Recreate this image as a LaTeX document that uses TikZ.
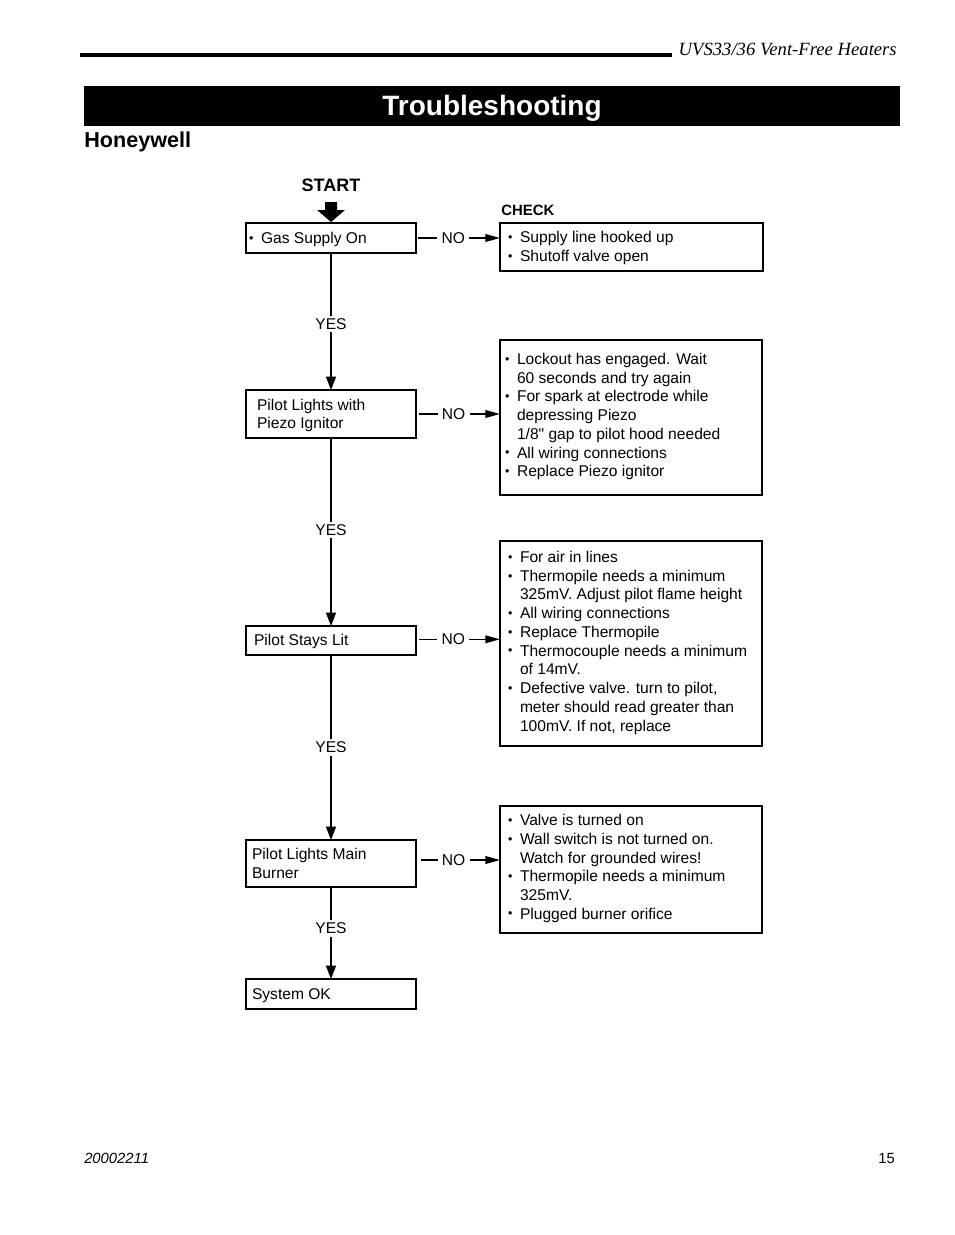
\documentclass[tikz,border=0pt]{standalone}
\usepackage{graphicx}
\usepackage{fontspec}
\setmainfont{Liberation Sans}
\newfontfamily\rawsans{Liberation Sans}
\newfontfamily\serifhdr{Liberation Serif}
\usetikzlibrary{arrows.meta,calc}
\def\px{0.75pt}
\newcommand\bl{\makebox[9pt][l]{\raisebox{0.08em}{\scalebox{0.8}{\textbullet}}}}
\newcommand\ind{\makebox[9pt]{}}
\newcommand\lines[1]{\parbox[t]{250pt}{\raggedright #1}}
\begin{document}
\begin{tikzpicture}[x=0.75pt,y=-0.75pt,
  lbox/.style={draw, line width=1.9pt, inner sep=0, outer sep=0, anchor=north west},
  rbox/.style={draw, line width=1.6pt, inner sep=0, outer sep=0, anchor=north west},
  txt/.style={inner sep=0, outer sep=0, anchor=base west, font=\fontsize{11.7}{14.06}\selectfont},
  conn/.style={line width=1pt},
  varrow/.style={conn, -{Triangle[length=10pt,width=7.5pt]}},
  harrow/.style={conn, -{Triangle[length=11pt,width=5.8pt]}},
  lab/.style={fill=white, inner xsep=2pt, inner ysep=2pt, font=\fontsize{11.7}{14}\selectfont},
  nolab/.style={lab, inner xsep=3.2pt},
]
\useasboundingbox (0,0) rectangle (954,1235);

% header
\fill (80,52.5) rectangle (672,56.5);
\node[anchor=base east, inner sep=0, font=\serifhdr\itshape\fontsize{14}{16}\selectfont] (hdr) at (897,55) {UVS33/36 Vent-Free Heaters};
\node[fill=black, minimum width=816*\px, minimum height=40*\px, inner sep=0, outer sep=0, anchor=north west] (bar) at (84,86) {};
\node[anchor=base, inner sep=0, text=white, font=\bfseries\fontsize{21}{24}\selectfont] (title) at (492,115) {Troubleshooting};
\node[anchor=base west, inner sep=0, font=\bfseries\fontsize{16.2}{19}\selectfont] (sect) at (84,147.5) {Honeywell};

% footer
\node[anchor=base west, inner sep=0, font=\itshape\fontsize{11.1}{13}\selectfont] (docno) at (84,1163.5) {20002211};
\node[anchor=base east, inner sep=0, font=\fontsize{11.1}{13}\selectfont] (page) at (895,1163.5) {15};

% start
\node[anchor=base, inner sep=0, font=\bfseries\fontsize{13.5}{16}\selectfont] (start) at (331,191) {START};
\node[anchor=base west, inner sep=0, font=\bfseries\fontsize{11.2}{13}\selectfont] (check) at (501,215.5) {CHECK};

% left boxes
\node[lbox, minimum width=170*\px, minimum height=30*\px] (b1) at (246,223) {};
\node[lbox, minimum width=170*\px, minimum height=48*\px] (b2) at (246,390) {};
\node[lbox, minimum width=170*\px, minimum height=29*\px] (b3) at (246,626) {};
\node[lbox, minimum width=170*\px, minimum height=47*\px] (b4) at (246,840) {};
\node[lbox, minimum width=170*\px, minimum height=30*\px] (b5) at (246,979) {};

\node[txt] (tb1) at (249,243.5) {\bl Gas Supply On};
\node[txt] (tb2) at (257,410) {\lines{Pilot Lights with\\Piezo Ignitor}};
\node[txt] (tb3) at (254,645.5) {Pilot Stays Lit};
\node[txt] (tb4) at (252,859.5) {\lines{Pilot Lights Main\\Burner}};
\node[txt] (tb5) at (252,999.5) {System OK};

% right boxes
\node[rbox, minimum width=263*\px, minimum height=48*\px] (r1) at (500,223) {};
\node[rbox, minimum width=262*\px, minimum height=155*\px] (r2) at (500,340) {};
\node[rbox, minimum width=262*\px, minimum height=205*\px] (r3) at (500,541) {};
\node[rbox, minimum width=262*\px, minimum height=127*\px] (r4) at (500,806) {};

\node[txt] (tr1) at (508,242.5) {\lines{\bl Supply line hooked up\\\bl Shutoff valve open}};
\node[txt] (tr2) at (505,364.5) {\lines{\bl Lockout has engaged. Wait\\\ind 60 seconds and try again\\\bl For spark at electrode while\\\ind depressing Piezo\\\ind 1/8{\rawsans"} gap to pilot hood needed\\\bl All wiring connections\\\bl Replace Piezo ignitor}};
\node[txt] (tr3) at (508,562.5) {\lines{\bl For air in lines\\\bl Thermopile needs a minimum\\\ind 325mV. Adjust pilot flame height\\\bl All wiring connections\\\bl Replace Thermopile\\\bl Thermocouple needs a minimum\\\ind of 14mV.\\\bl Defective valve. turn to pilot,\\\ind meter should read greater than\\\ind 100mV. If not, replace}};
\node[txt] (tr4) at (508,825.5) {\lines{\bl Valve is turned on\\\bl Wall switch is not turned on.\\\ind Watch for grounded wires!\\\bl Thermopile needs a minimum\\\ind 325mV.\\\bl Plugged burner orifice}};

% start arrow
\begin{scope}[shift={(b1.north)}]
\fill (-6,-21) -- (6,-21) -- (6,-13) -- (14,-13) -- (0,-1) -- (-14,-13) -- (-6,-13) -- cycle;
\end{scope}

% YES connectors
\draw[varrow] (b1.south) -- node[lab, pos=0.52] (y1) {YES} (b2.north);
\draw[varrow] (b2.south) -- node[lab, pos=0.49] (y2) {YES} (b3.north);
\draw[varrow] (b3.south) -- node[lab, pos=0.50] (y3) {YES} (b4.north);
\draw[varrow] (b4.south) -- node[lab, pos=0.45] (y4) {YES} (b5.north);

% NO connectors
\coordinate (s1) at ([xshift=1.5pt]b1.east);
\coordinate (s2) at ([xshift=2pt]b2.east);
\coordinate (s3) at ([xshift=2.5pt,yshift=0.9pt]b3.east);
\coordinate (s4) at ([xshift=4pt,yshift=2.6pt]b4.east);
\draw[harrow] (s1) -- node[nolab, pos=0.43] (n1) {NO} (r1.west |- s1);
\draw[harrow] (s2) -- node[nolab, pos=0.43] (n2) {NO} (r2.west |- s2);
\draw[harrow] (s3) -- node[nolab, pos=0.42] (n3) {NO} (r3.west |- s3);
\draw[harrow] (s4) -- node[nolab, pos=0.41] (n4) {NO} (r4.west |- s4);
\end{tikzpicture}
\end{document}
